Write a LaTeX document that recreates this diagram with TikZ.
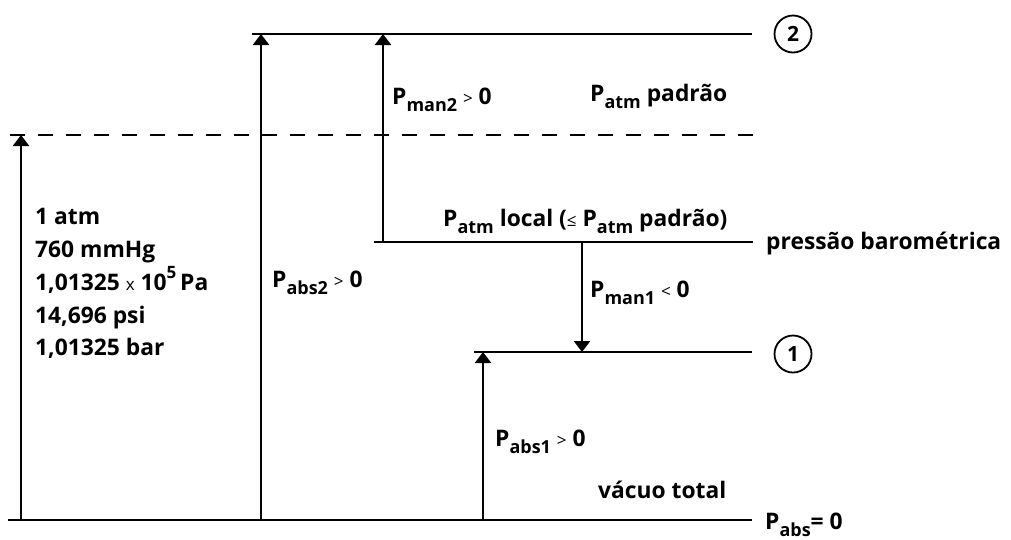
\documentclass[tikz,border=0pt]{standalone}
\usepackage{fontspec}
\setmainfont{Open Sans}
\usetikzlibrary{arrows.meta}
% lowered subscript, raised exponent and light relation sign used in the labels
\newcommand{\lowsub}[1]{\raisebox{-0.32em}{\fontsize{18}{18}\selectfont #1}}
\newcommand{\relsym}[1]{{\fontsize{17}{17}\selectfont\mdseries #1}}
\newcommand{\upsup}[1]{\raisebox{0.5em}{\fontsize{17}{17}\selectfont #1}}
\tikzset{
  lbl/.style={anchor=base west, inner sep=0pt, font=\fontsize{22.8}{22.8}\selectfont\bfseries},
  level/.style={line width=1.6pt},
  refline/.style={line width=1.4pt, dash pattern=on 15pt off 13pt},
  gauge/.style={line width=2.6pt, -{Triangle[length=11pt,width=16pt]}},
  statetag/.style={draw, circle, line width=1.8pt, minimum size=37pt, inner sep=0pt,
                   font=\fontsize{21}{21}\selectfont\bfseries}
}
\begin{document}
\begin{tikzpicture}[x=1pt,y=-1pt]
\useasboundingbox (0,0) rectangle (1011,539);

% pressure levels
\coordinate (v0) at (8,520);   \coordinate (v1) at (752,520);
\coordinate (d0) at (10,135);  \coordinate (d1) at (755,135);
\coordinate (t0) at (252,34);  \coordinate (t1) at (752,34);
\coordinate (b0) at (374,242); \coordinate (b1) at (753,242);
\coordinate (s0) at (474,352); \coordinate (s1) at (752,352);

\draw[level] (v0) -- (v1);
\draw[refline] (d0) -- (d1);
\draw[level] (t0) -- (t1);
\draw[level] (b0) -- (b1);
\draw[level] (s0) -- (s1);

% state markers
\node[statetag] (st2) at (793,34) {2};
\node[statetag] (st1) at (793,354) {1};

% arrow end points
\coordinate (a1b) at (21,520);  \coordinate (a1t) at (21,135);
\coordinate (a2b) at (261,520); \coordinate (a2t) at (261,34);
\coordinate (a3b) at (383,242); \coordinate (a3t) at (383,34);
\coordinate (a4t) at (582,242); \coordinate (a4b) at (582,352);
\coordinate (a5b) at (483,520); \coordinate (a5t) at (483,352);

\draw[gauge] (a1b) -- (a1t);
\draw[gauge] (a2b) -- (a2t);
\draw[gauge] (a3b) -- (a3t);
\draw[gauge] (a4t) -- (a4b);
\draw[gauge] (a5b) -- (a5t);

% standard atmosphere values
\node[lbl] (u1) at (35,224) {1 atm};
\node[lbl] (u2) at (35,257) {760 mmHg};
\node[lbl] (u3) at (35,290) {1,01325 \relsym{x} 10\upsup{5}\,Pa};
\node[lbl] (u4) at (35,323) {14,696 psi};
\node[lbl] (u5) at (35,355) {1,01325 bar};

% pressure labels
\node[lbl] (pabs2) at (272,287) {P\lowsub{abs2} \relsym{>} 0};
\node[lbl] (pman2) at (392,104) {P\lowsub{man2} \relsym{>} 0};
\node[lbl] (patmp) at (590,101) {P\lowsub{atm} padrão};
\node[lbl] (patml) at (443,226) {P\lowsub{atm} local (\relsym{≤} P\lowsub{atm} padrão)};
\node[lbl] (baro) at (766,249) {pressão barométrica};
\node[lbl] (pman1) at (590,297) {P\lowsub{man1} \relsym{<} 0};
\node[lbl] (pabs1) at (495,446) {P\lowsub{abs1} \relsym{>} 0};
\node[lbl] (vac) at (598,498) {vácuo total};
\node[lbl] (pabs0) at (765,529) {P\lowsub{abs}= 0};
\end{tikzpicture}
\end{document}
